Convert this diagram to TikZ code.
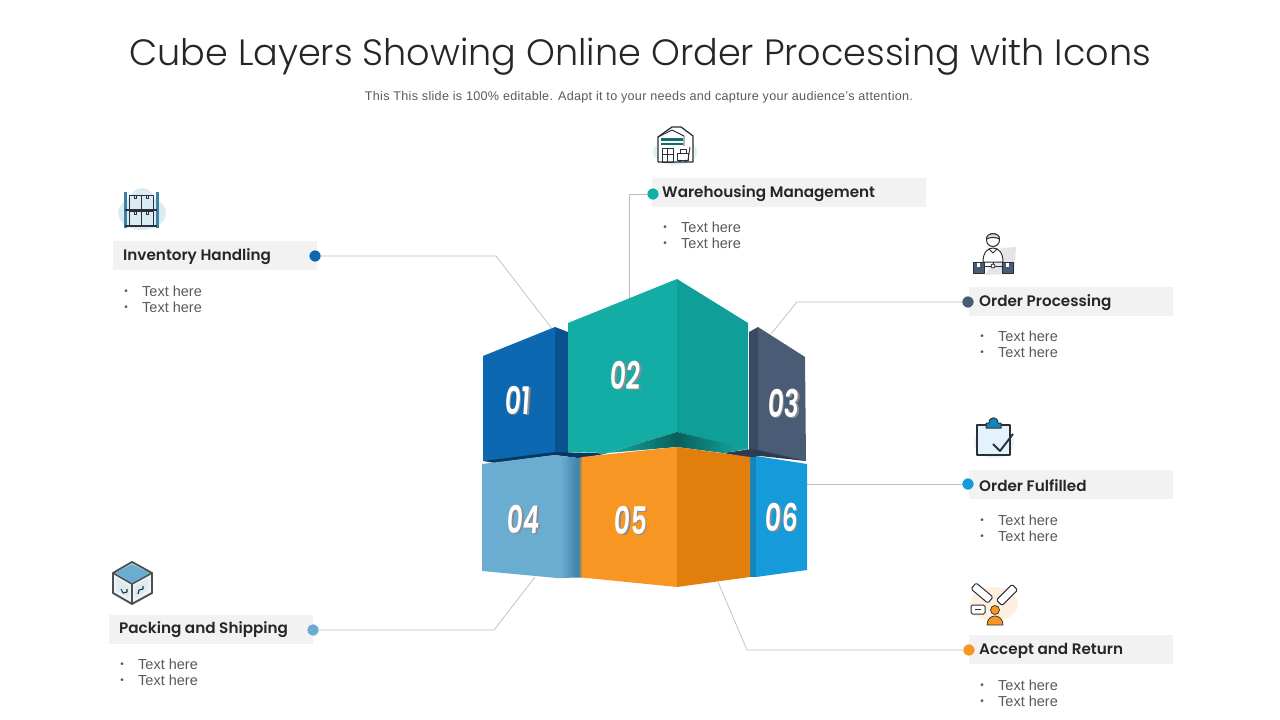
\documentclass[tikz,border=0pt]{standalone}
\usepackage{fontspec}
\setmainfont{Liberation Sans}
\newfontfamily\titlefont{Poppins Light}
\newfontfamily\headfont{Poppins SemiBold}
\newfontfamily\numfont{Poppins SemiBold}
\definecolor{blueA}{HTML}{0B68B1}
\definecolor{blueAd}{HTML}{07528F}
\definecolor{tealA}{HTML}{14ADA6}
\definecolor{tealAd}{HTML}{109E98}
\definecolor{slateA}{HTML}{4A5B75}
\definecolor{slateAd}{HTML}{3B4A63}
\definecolor{skyA}{HTML}{6AADD0}
\definecolor{skyAd}{HTML}{3F82A8}
\definecolor{orangeA}{HTML}{F79622}
\definecolor{orangeAd}{HTML}{E27E0B}
\definecolor{cyanA}{HTML}{169BDA}
\definecolor{cyanAd}{HTML}{1385BE}
\definecolor{barc}{HTML}{F2F2F2}
\definecolor{linec}{HTML}{BDBDBD}
\definecolor{inkc}{HTML}{2B3038}
\begin{document}
\begin{tikzpicture}[x=1pt,y=-1pt,
  bar/.style={fill=barc,draw=none},
  heading/.style={anchor=west,inner sep=0pt,yshift=-1pt,font=\headfont\fontsize{15.2}{18}\selectfont,text=black!85},
  item/.style={anchor=west,inner sep=0pt,font=\fontsize{14.5}{16}\selectfont,text=black!65},
  bullet/.style={inner sep=0pt,yshift=-1pt,font=\fontsize{10}{12}\selectfont,text=black!65},
  dot/.style={circle,inner sep=0pt,minimum size=12pt,draw=white,line width=.5pt,fill=#1},
  link/.style={draw=linec,line width=.7pt},
  num/.style={inner sep=0pt,font=\numfont\fontsize{38}{40}\selectfont,xscale=.66,xslant=.1,text=white},
  numsh/.style={inner sep=0pt,font=\numfont\fontsize{38}{40}\selectfont,xscale=.66,xslant=.1,text=black!45},
  icon/.style={draw=inkc,line width=1.3pt,line join=round}]
\useasboundingbox (0,0) rectangle (1280,720);

% Title and subtitle
\node[inner sep=0pt,font=\titlefont\fontsize{36.6}{42}\selectfont,text=black!85] (title) at (640,56.5) {Cube Layers Showing Online Order Processing with Icons};
\node[inner sep=0pt,font=\fontsize{12.6}{14}\selectfont\addfontfeature{LetterSpace=2.4},text=black!65] (subtitle) at (639,97) {This This slide is 100\% editable. Adapt it to your needs and capture your audience's attention.};

% Connector ends on the cube
\coordinate (endA) at (553,330);
\coordinate (endB) at (629,298);
\coordinate (endC) at (771,334);
\coordinate (endD) at (807,484);
\coordinate (endE) at (535,577);
\coordinate (endF) at (718,582);

% Label bars
\fill[bar] (113,241) rectangle (317,270);
\fill[bar] (652,178) rectangle (926,207);
\fill[bar] (969,287) rectangle (1173,316);
\fill[bar] (969,470) rectangle (1173,499);
\fill[bar] (109,615) rectangle (313,644);
\fill[bar] (969,635) rectangle (1173,664);

% Dots
\node[dot=blueA] (dotA) at (315,256) {};
\node[dot=tealA] (dotB) at (653,194) {};
\node[dot=slateA] (dotC) at (968,302) {};
\node[dot=cyanA] (dotD) at (968,484) {};
\node[dot=skyA] (dotE) at (313,630) {};
\node[dot=orangeA] (dotF) at (969,650) {};

% Connectors
\draw[link] (dotA) -- (496,256) -- (endA);
\draw[link] (dotB) -- (629,194) -- (endB);
\draw[link] (dotC) -- (797,302) -- (endC);
\draw[link] (dotD) -- (endD);
\draw[link] (dotE) -- (494,630) -- (endE);
\draw[link] (dotF) -- (747,650) -- (endF);

% Upper Left
% Cube 01
\fill[blueA] (483,356) -- (555,327) -- (555,455) -- (483,461) -- cycle;
\fill[blueAd] (555,327) -- (568,332) -- (568,456) -- (555,455) -- cycle;

% Upper Right
% Cube 03
\fill[slateAd] (749,332) -- (758,327) -- (758,453) -- (749,450) -- cycle;
\fill[slateA] (758,327) -- (805,357) -- (806,461) -- (758,453) -- cycle;

% Upper Middle
% Cube 02
\fill[tealA] (568,323) -- (677,279) -- (677,432) -- (607,453) -- (568,452) -- cycle;
\fill[tealAd] (677,279) -- (748,323) -- (748,450) -- (677,432) -- cycle;
\shade[left color=tealA,right color=tealAd!60!black] (607,453) -- (677,432) -- (677,447) -- cycle;
\shade[left color=tealAd!60!black,right color=tealA] (677,432) -- (748,449) -- (723,453) -- (677,447) -- cycle;

% Dark strips between the layers
\fill[blueAd!70!black] (483,461) -- (555,452) -- (607,453.5) -- (582,458) -- (578,458) -- (555,455) -- (495,463) -- cycle;
\fill[slateAd!80!black] (723,453) -- (748,449.5) -- (758,450) -- (806,461) -- (760,456) -- (750,458) -- cycle;

% Lower Left
% Cube 04
\fill[skyA] (482,464) -- (555,455) -- (562,456) -- (562,578) -- (557,578) -- (482,571) -- cycle;
\shade[left color=skyA,right color=skyAd] (561,456) -- (578,458) -- (578,577.5) -- (561,578) -- cycle;
\shade[left color=skyAd,right color=orangeA] (578,458) -- (583,457) -- (583,577.5) -- (578,577.5) -- cycle;

% Lower Right
% Cube 06
\fill[cyanAd] (750,457) -- (757,457) -- (757,577) -- (750,577) -- cycle;
\fill[cyanA] (756,456) -- (807,464) -- (807,570) -- (756,577) -- cycle;

% Lower Middle
% Cube 05
\fill[orangeA] (582,457) -- (677,447) -- (677,587) -- (582,577.5) -- cycle;
\fill[orangeAd] (677,447) -- (750,457) -- (750,577) -- (677,587) -- cycle;

% Cube numbers
\node[numsh] (shA) at (519.5,401) {01};
\node[num] (numA) at (518,400) {01};
\node[numsh] (shB) at (627.5,376) {02};
\node[num] (numB) at (626,375) {02};
\node[numsh] (shC) at (785.5,404) {03};
\node[num] (numC) at (784,403) {03};
\node[numsh] (shD) at (525.5,520) {04};
\node[num] (numD) at (524,519) {04};
\node[numsh] (shE) at (632.5,521) {05};
\node[num] (numE) at (631,520) {05};
\node[numsh] (shF) at (783.5,518) {06};
\node[num] (numF) at (782,517) {06};

% Left labels
\node[heading] (headA) at (123,256) {Inventory Handling};
\node[bullet] (bulA) at (126,291) {•};
\node[item] (itemA) at (142,291) {Text here};
\node[bullet] (bulAb) at (126,307) {•};
\node[item] (itemAb) at (142,307) {Text here};

\node[heading] (headE) at (119,629) {Packing and Shipping};
\node[bullet] (bulE) at (122,664) {•};
\node[item] (itemE) at (138,664) {Text here};
\node[bullet] (bulEb) at (122,680) {•};
\node[item] (itemEb) at (138,680) {Text here};

% Top label
\node[heading] (headB) at (662,193) {Warehousing Management};
\node[bullet] (bulB) at (665,227) {•};
\node[item] (itemB) at (681,227) {Text here};
\node[bullet] (bulBb) at (665,243) {•};
\node[item] (itemBb) at (681,243) {Text here};

% Right labels
\node[heading] (headC) at (979,302) {Order Processing};
\node[bullet] (bulC) at (982,336) {•};
\node[item] (itemC) at (998,336) {Text here};
\node[bullet] (bulCb) at (982,352) {•};
\node[item] (itemCb) at (998,352) {Text here};

\node[heading] (headD) at (979,485) {Order Fulfilled};
\node[bullet] (bulD) at (982,520) {•};
\node[item] (itemD) at (998,520) {Text here};
\node[bullet] (bulDb) at (982,536) {•};
\node[item] (itemDb) at (998,536) {Text here};

\node[heading] (headF) at (979,650) {Accept and Return};
\node[bullet] (bulF) at (982,685) {•};
\node[item] (itemF) at (998,685) {Text here};
\node[bullet] (bulFb) at (982,701) {•};
\node[item] (itemFb) at (998,701) {Text here};

% Icon shelves
\fill[skyA!25] (142,213) ellipse (24 and 17);
\fill[skyA!25] (142,200) circle (12);
\fill[skyAd] (123.5,192) rectangle (126.5,228);
\fill[skyAd] (156,192) rectangle (159,228);
\draw[icon,line width=1pt] (129,210) -- (129,195) -- (153,195) -- (153,210);
\draw[icon,line width=1pt] (141,195) -- (141,209);
\draw[icon,line width=1pt] (129,226) -- (129,211) -- (153,211) -- (153,226);
\draw[icon,line width=1pt] (141,211) -- (141,225);
\draw[icon,line width=.8pt] (134,195) -- (134,198) -- (136,198) -- (136,195);
\draw[icon,line width=.8pt] (146,195) -- (146,198) -- (148,198) -- (148,195);
\draw[icon,line width=.8pt] (134,211) -- (134,214) -- (136,214) -- (136,211);
\draw[icon,line width=.8pt] (146,211) -- (146,214) -- (148,214) -- (148,211);
\draw[icon] (125,210) -- (157,210);
\draw[icon] (125,226) -- (157,226);

% Icon warehouse
\fill[tealA!15] (675,152) ellipse (22 and 13);
\draw[icon,fill=white] (658,162) -- (658,137) -- (672,127) -- (681,127) -- (693,136) -- (693,162) -- cycle;
\draw[icon,line width=.9pt] (658,137) -- (672,130) -- (684,136) -- (684,146);
\fill[tealAd!70!black] (661,138) rectangle (683,140.5);
\fill[tealAd!70!black] (661,142.5) rectangle (683,145);
\draw[icon,line width=1pt] (662,148) rectangle (673,162);
\draw[icon,line width=.8pt] (667.5,148) -- (667.5,162);
\draw[icon,line width=.8pt] (662,154) -- (673,154);
\draw[icon,line width=.9pt] (677,153) rectangle (688,160);
\draw[icon,line width=.8pt] (680,149) rectangle (686,153);
\draw[icon,line width=.9pt] (688,160) -- (690,147);
\fill[inkc] (680,161) circle (1.3);
\fill[inkc] (686,161) circle (1.3);

% Icon order processing
\fill[black!10] (1001,248) -- (1016,247) -- (1014,274) -- (985,275) -- cycle;
\draw[icon,line width=1pt,fill=white] (993,240) circle (6.5);
\draw[icon,line width=1pt,fill=black!15] (986.5,239) .. controls (986,232) and (1000,232) .. (999.5,239) .. controls (996,237) and (990,237) .. (986.5,239) -- cycle;
\draw[icon,line width=1pt,fill=white] (983,262) .. controls (983,252) and (988,248) .. (993,248) .. controls (998,248) and (1003,252) .. (1003,262) -- cycle;
\draw[icon,line width=1pt] (989,249) -- (993,253) -- (997,249);
\draw[icon,line width=1pt] (983,266) -- (1002,266);
\draw[icon,line width=1pt] (993,262) -- (993,266);
\draw[icon,fill=white,line width=.8pt] (993,266) circle (2);
\draw[icon,fill=slateA,line width=.8pt] (973,262) rectangle (984,273);
\draw[icon,fill=slateA,line width=.8pt] (1002,262) rectangle (1013,273);
\fill[white] (977,263) rectangle (980,267);
\fill[white] (1006,263) rectangle (1009,267);

% Icon clipboard
\fill[cyanA!12] (994,443) ellipse (20 and 15);
\draw[icon,line width=1.7pt,fill=cyanA!12] (986,425) -- (977,425) -- (977,455) -- (1010,455) -- (1010,425) -- (1001,425);
\draw[icon,fill=cyanA!85!black,line width=1pt] (986,428) -- (986,423) -- (989,423) .. controls (989,416) and (998,416) .. (998,423) -- (1001,423) -- (1001,428) -- cycle;
\draw[icon,line width=1.9pt] (993,444) -- (1000,451) -- (1013,434);

% Icon accept and return
\fill[orangeA!15] (994,604) ellipse (24 and 17);
\draw[icon,line width=1pt,fill=white,rotate around={-40:(982,593)},rounded corners=1.5pt] (971,589) rectangle (993,597);
\draw[icon,line width=1pt,fill=white,rotate around={45:(1007,595)},rounded corners=1.5pt] (996,591) rectangle (1018,599);
\draw[icon,line width=1pt,fill=white,rounded corners=1.5pt] (971,605) rectangle (985,614);
\draw[icon,line width=.8pt] (975,609.5) -- (981,609.5);
\draw[icon,fill=orangeA,line width=.7pt] (995,610) circle (4.5);
\draw[icon,fill=orangeA,line width=.7pt] (987,625) .. controls (987,619) and (991,616) .. (995,616) .. controls (999,616) and (1003,619) .. (1003,625) -- cycle;

% Icon box
\fill[black!5] (113,573) -- (132,584) -- (152,573) -- (152,593) -- (132,604) -- (113,593) -- cycle;
\fill[skyA] (132,564) -- (150,573) -- (132,583) -- (115,573) -- cycle;
\fill[skyA!25] (116,578) -- (129,586) -- (129,598) -- (116,590) -- cycle;
\fill[skyA!25] (148,578) -- (135,586) -- (135,598) -- (148,590) -- cycle;
\draw[icon,draw=inkc!85,line width=1.9pt] (132,562) -- (152,573) -- (152,593) -- (132,604) -- (113,593) -- (113,573) -- cycle;
\draw[icon,draw=inkc!85,line width=1.6pt] (113,573) -- (132,584) -- (152,573);
\draw[icon,draw=inkc!85,line width=1.6pt] (132,584) -- (132,604);
\draw[icon,line width=1.1pt] (121,589) -- (123,593) -- (127,592) -- (127,589);
\draw[icon,line width=1.1pt] (138,594) -- (139,590) -- (143,589) -- (143,586);
\end{tikzpicture}
\end{document}
